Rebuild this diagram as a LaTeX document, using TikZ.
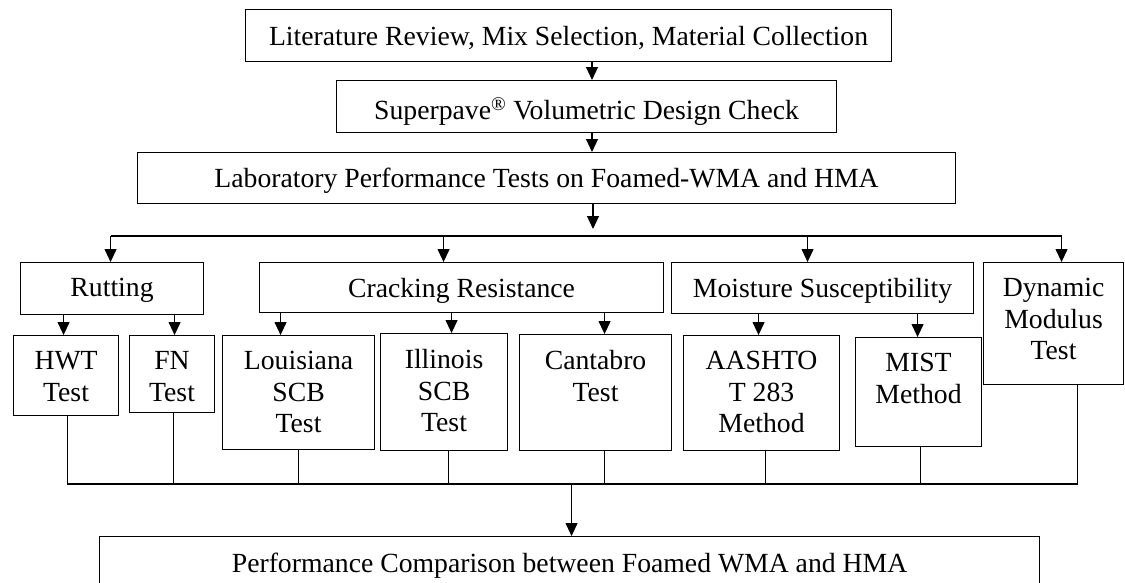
\documentclass[tikz,border=0pt]{standalone}
\usepackage{fontspec}
\setmainfont{Liberation Serif}
\usetikzlibrary{arrows.meta,calc}
\begin{document}
\begin{tikzpicture}[x=1pt,y=-1pt,
  box/.style={draw, line width=1.1pt, anchor=north west, inner sep=0pt},
  txt/.style={anchor=north, inner sep=0pt, align=center, font=\fontsize{27.7}{31.7}\selectfont},
  conn/.style={line width=1.1pt},
  arr/.style={conn, -{Triangle[length=13pt,width=12pt]}}]
\clip (0,0) rectangle (1125,582);
% boxes
\node[box, minimum width=646pt, minimum height=52pt] (lit) at (245,9) {};
\node[box, minimum width=500pt, minimum height=52pt] (sup) at (336,80) {};
\node[box, minimum width=818pt, minimum height=51pt] (lab) at (137,152) {};
\node[box, minimum width=183pt, minimum height=52pt] (rut) at (20,262) {};
\node[box, minimum width=404pt, minimum height=50pt] (crk) at (259,262) {};
\node[box, minimum width=302pt, minimum height=51pt] (moi) at (671,262) {};
\node[box, minimum width=140pt, minimum height=122pt] (dyn) at (983,262) {};
\node[box, minimum width=105pt, minimum height=80pt] (hwt) at (13,335) {};
\node[box, minimum width=85pt, minimum height=77pt] (fn) at (129,335) {};
\node[box, minimum width=152pt, minimum height=114pt] (lou) at (222,335) {};
\node[box, minimum width=127pt, minimum height=117pt] (ill) at (380,333) {};
\node[box, minimum width=152pt, minimum height=116pt] (can) at (519,334) {};
\node[box, minimum width=156pt, minimum height=115pt] (aas) at (683,335) {};
\node[box, minimum width=126pt, minimum height=109pt] (mis) at (855,337) {};
\node[box, minimum width=940pt, minimum height=52pt] (per) at (99,536) {};
% texts
\node[txt] (lit-t) at ([yshift=-17pt]lit.north) {Literature Review, Mix Selection, Material Collection};
\node[txt] (sup-t) at ([yshift=-17pt]sup.north) {Superpave\textsuperscript{\textregistered} Volumetric Design Check};
\node[txt] (lab-t) at ([yshift=-16pt]lab.north) {Laboratory Performance Tests on Foamed-WMA and HMA};
\node[txt] (rut-t) at ([yshift=-16pt]rut.north) {Rutting};
\node[txt] (crk-t) at ([yshift=-16pt]crk.north) {Cracking Resistance};
\node[txt] (moi-t) at ([yshift=-16pt]moi.north) {Moisture Susceptibility};
\node[txt] (dyn-t) at ([yshift=-16pt]dyn.north) {Dynamic\\Modulus\\Test};
\node[txt] (hwt-t) at ([yshift=-16pt]hwt.north) {HWT\\Test};
\node[txt] (fn-t) at ([yshift=-16pt]fn.north) {FN\\Test};
\node[txt] (lou-t) at ([yshift=-16pt]lou.north) {Louisiana\\SCB\\Test};
\node[txt] (ill-t) at ([yshift=-16pt]ill.north) {Illinois\\SCB\\Test};
\node[txt] (can-t) at ([yshift=-16pt]can.north) {Cantabro\\Test};
\node[txt] (aas-t) at ([yshift=-16pt]aas.north) {AASHTO\\T 283\\Method};
\node[txt] (mis-t) at ([yshift=-16pt]mis.north) {MIST\\Method};
\node[txt] (per-t) at ([yshift=-17pt]per.north) {Performance Comparison between Foamed WMA and HMA};
% helper coordinates
\coordinate (xm) at (592,0);
\coordinate (labend) at (593,229);
\coordinate (bus) at (0,236);
\coordinate (bbus) at (0,484);
\coordinate (a-rut) at ($(rut.north)+(-1.5,0)$);
\coordinate (a-crk) at ($(crk.north)+(-18,0)$);
\coordinate (a-moi) at ($(moi.north)+(-15,0)$);
\coordinate (a-dyn) at ($(dyn.north)+(8,0)$);
\coordinate (a-hwt) at ($(hwt.north)+(-2.5,0)$);
\coordinate (a-fn) at ($(fn.north)+(2.5,0)$);
\coordinate (a-lou) at ($(lou.north)+(-18,0)$);
\coordinate (a-ill) at ($(ill.north)+(7.5,0)$);
\coordinate (a-can) at ($(can.north)+(9,0)$);
\coordinate (a-aas) at ($(aas.north)+(-3,0)$);
\coordinate (a-mis) at ($(mis.north)+(-1,0)$);
\coordinate (b-hwt) at ($(hwt.south)+(1.5,0)$);
\coordinate (b-fn) at ($(fn.south)+(1.5,0)$);
\coordinate (b-lou) at (lou.south);
\coordinate (b-ill) at ($(ill.south)+(4.5,0)$);
\coordinate (b-can) at ($(can.south)+(9,0)$);
\coordinate (b-aas) at ($(aas.south)+(4,0)$);
\coordinate (b-mis) at ($(mis.south)+(2,0)$);
\coordinate (b-dyn) at ($(dyn.south)+(24,0)$);
% top chain
\draw[arr] (xm |- lit.south) -- (xm |- sup.north);
\draw[arr] (xm |- sup.south) -- (xm |- lab.north);
\draw[arr] (labend |- lab.south) -- (labend);
% upper bus
\draw[conn] (a-rut |- bus) -- (a-dyn |- bus);
\draw[arr] (a-rut |- bus) -- (a-rut);
\draw[arr] (a-crk |- bus) -- (a-crk);
\draw[arr] (a-moi |- bus) -- (a-moi);
\draw[arr] (a-dyn |- bus) -- (a-dyn);
% category to tests
\draw[arr] (a-hwt |- rut.south) -- (a-hwt);
\draw[arr] (a-fn |- rut.south) -- (a-fn);
\draw[arr] (a-lou |- crk.south) -- (a-lou);
\draw[arr] (a-ill |- crk.south) -- (a-ill);
\draw[arr] (a-can |- crk.south) -- (a-can);
\draw[arr] (a-aas |- moi.south) -- (a-aas);
\draw[arr] (a-mis |- moi.south) -- (a-mis);
% lower bus
\draw[conn] (b-hwt) -- (b-hwt |- bbus) -- (b-dyn |- bbus) -- (b-dyn);
\draw[conn] (b-fn) -- (b-fn |- bbus);
\draw[conn] (b-lou) -- (b-lou |- bbus);
\draw[conn] (b-ill) -- (b-ill |- bbus);
\draw[conn] (b-can) -- (b-can |- bbus);
\draw[conn] (b-aas) -- (b-aas |- bbus);
\draw[conn] (b-mis) -- (b-mis |- bbus);
\draw[arr] ([xshift=2pt]per.north |- bbus) -- ([xshift=2pt]per.north);
\end{tikzpicture}
\end{document}
